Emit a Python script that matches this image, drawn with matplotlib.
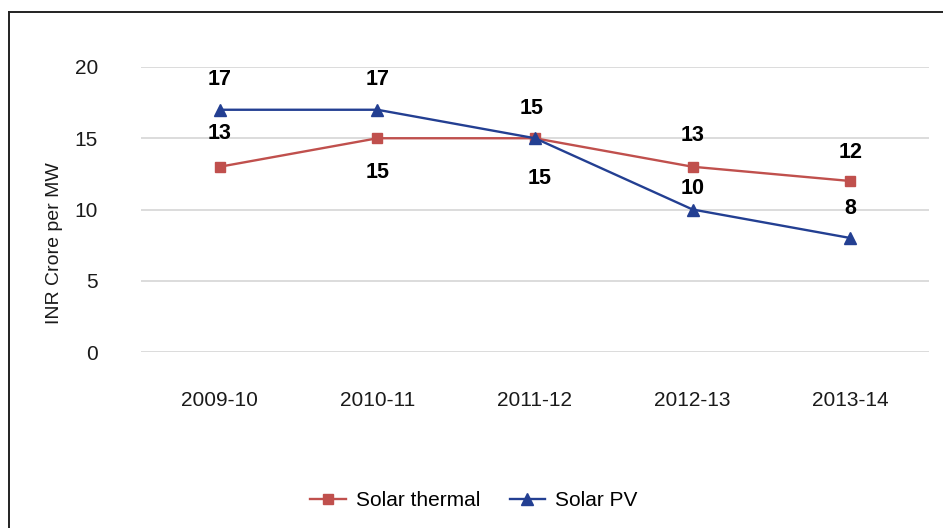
import matplotlib
matplotlib.use("Agg")
import matplotlib.pyplot as plt
from matplotlib.lines import Line2D

plt.rcParams['font.family'] = ['Liberation Sans', 'DejaVu Sans']

years = ['2009-10', '2010-11', '2011-12', '2012-13', '2013-14']
solar_thermal = [13, 15, 15, 13, 12]
solar_pv = [17, 17, 15, 10, 8]

# label offsets (pixels, x / y, positive y = down)
thermal_off = [(0, -33), (0, 34), (5, 40), (0, -31), (0, -28)]
pv_off = [(0, -30), (0, -30), (-3, -30), (0, -21), (0, -30)]

red = '#C0504D'
blue = '#233F92'

fig = plt.figure(figsize=(9.43, 5.28), dpi=100)
ax = fig.add_axes([141 / 943, 1 - 352 / 528, (929 - 141) / 943, (352 - 67) / 528])

x = list(range(len(years)))
ax.plot(x, solar_thermal, color=red, lw=1.7, marker='s', ms=7.5, label='Solar thermal')
ax.plot(x, solar_pv, color=blue, lw=1.7, marker='^', ms=9, label='Solar PV')

px = 0.72
for i, v in enumerate(solar_thermal):
    dx, dy = thermal_off[i]
    ax.annotate(str(v), (i, v), xytext=(dx * px, -dy * px), textcoords='offset points',
                ha='center', va='center', fontsize=15.5, fontweight='bold', color='black')
for i, v in enumerate(solar_pv):
    dx, dy = pv_off[i]
    ax.annotate(str(v), (i, v), xytext=(dx * px, -dy * px), textcoords='offset points',
                ha='center', va='center', fontsize=15.5, fontweight='bold', color='black')

ax.set_xlim(-0.5, len(years) - 0.5)
ax.set_ylim(0, 20)
ax.set_yticks([0, 5, 10, 15, 20])
ax.set_xticks(x)
ax.set_xticklabels(years)
ax.grid(axis='y', color='#D9D9D9', lw=1.3)
ax.set_axisbelow(True)
for s in ax.spines.values():
    s.set_visible(False)
ax.tick_params(axis='both', length=0, labelsize=15, colors='#1a1a1a')
ax.tick_params(axis='y', pad=31)
ax.tick_params(axis='x', pad=28)

fig.text(55 / 943, 1 - 243 / 528, 'INR Crore per MW', rotation=90, ha='center', va='center',
         fontsize=14, color='#1a1a1a')

fig.legend(loc='center', bbox_to_anchor=(474 / 943, 1 - 501 / 528), ncol=2, frameon=False,
           fontsize=15, handlelength=1.7, columnspacing=1.4, handletextpad=0.5)

# outer chart border (left and top only visible)
fig.add_artist(Line2D([9 / 943, 9 / 943], [0, 1 - 12 / 528], transform=fig.transFigure,
                      color='#222222', lw=1.4))
fig.add_artist(Line2D([9 / 943, 1], [1 - 12 / 528, 1 - 12 / 528], transform=fig.transFigure,
                      color='#222222', lw=1.4))

fig.savefig('out.png', dpi=100)
